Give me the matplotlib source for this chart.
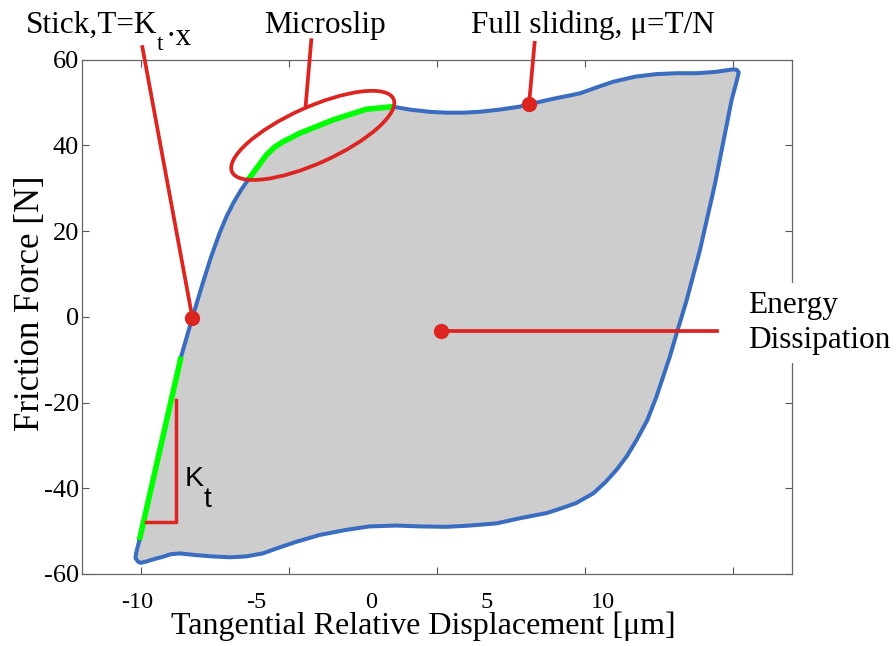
import matplotlib
matplotlib.use("Agg")
import matplotlib.pyplot as plt
from matplotlib.patches import Ellipse
from matplotlib.transforms import ScaledTranslation

plt.rcParams['font.family'] = 'Liberation Serif'
plt.rcParams['axes.unicode_minus'] = False

# hysteresis loop (x in um, y in N), going round from lower left
loop_x = [-10.06, -8.65, -8.27, -7.92, -7.64, -7.35, -7.12, -6.88, -6.63, -6.39,
          -6.22, -5.77, -5.50, -5.21, -4.64, -3.52, -2.39, -1.49, -0.90, -0.25, 0.32,
          0.90, 1.44, 2.10, 2.79, 3.11, 3.90, 4.83, 5.40, 5.95, 6.70,
          7.42, 8.10, 8.78, 9.40, 10.01, 10.13, 10.20, 10.15, 9.96, 9.40,
          8.89, 8.44, 8.10, 7.87, 7.42, 7.11, 6.75, 6.42, 6.07, 5.69,
          5.28, 4.69, 4.15, 3.70, 2.80, 2.01, 1.11, 0.32, -0.59, -1.37,
          -2.28, -3.06, -3.97, -4.76, -5.32, -5.89, -6.45, -7.01, -7.59, -8.14,
          -8.70, -9.01, -9.27, -9.55, -9.83, -10.02, -10.11, -10.19, -10.17, -10.06]
loop_y = [-52.1, -9.3, -0.2, 7.8, 13.9, 19.5, 23.3, 26.6, 29.5, 31.9,
          33.5, 37.7, 39.5, 40.8, 42.8, 45.9, 48.4, 49.0, 48.3, 47.8, 47.6,
          47.6, 47.8, 48.3, 49.0, 49.55, 50.8, 52.1, 53.5, 54.8, 56.0,
          56.6, 56.8, 56.8, 57.1, 57.7, 57.6, 57.0, 55.5, 50.6, 31.1,
          15.6, 3.9, -3.9, -9.3, -18.6, -24.1, -28.7, -32.5, -35.7, -38.6,
          -41.2, -43.5, -44.8, -45.8, -47.0, -48.2, -48.7, -49.0, -48.9, -48.7,
          -48.9, -49.7, -50.9, -52.5, -53.8, -55.2, -55.9, -56.1, -55.9, -55.6,
          -55.2, -55.4, -56.0, -56.5, -57.1, -57.4, -57.1, -56.3, -55.1, -52.1]

# green parts: linear stick and microslip
stick_x = [-10.06, -8.65]
stick_y = [-52.1, -9.3]
slip_x = [-6.39, -6.22, -5.77, -5.50, -5.21, -4.64, -3.52, -2.39, -1.49]
slip_y = [31.9, 33.5, 37.7, 39.5, 40.8, 42.8, 45.9, 48.4, 49.0]

# annotation points
stick_pt = (-8.27, -0.2)
full_pt = (3.11, 49.55)
energy_pt = (0.125, -3.3)
slip_center = (-4.20, 42.3)

xticks = [-10, -5, 0, 5, 10]
xtick_label_pos = [-10.13, -6.10, -2.24, 1.67, 5.61]
xtick_labels = ['-10', '-5', '0', '5', '10']
yticks = [-60, -40, -20, 0, 20, 40, 60]

RED = '#dc2420'
BLUE = '#3a6cc0'
GREEN = '#00ff00'

fig = plt.figure(figsize=(8.96, 6.46), dpi=100)
ax = fig.add_axes([82/896, 1-574/646, 710/896, 514.5/646])

ax.fill(loop_x, loop_y, color='#cdcdcd', zorder=1)
ax.plot(loop_x, loop_y, color=BLUE, lw=2.9, solid_joinstyle='round', zorder=2)
ax.plot(stick_x, stick_y, color=GREEN, lw=4, solid_capstyle='butt', zorder=3)
ax.plot(slip_x, slip_y, color=GREEN, lw=4, solid_capstyle='butt', zorder=3)

# K_t triangle
ax.plot([-9.83, -8.82, -8.82], [-47.8, -47.8, -19.4], color=RED, lw=2.5, zorder=3)
k = ax.text(-8.54, -39.5, 'K', family='Liberation Sans', fontsize=20.5, zorder=5)
ax.annotate('t', xy=(1, 0), xycoords=k, xytext=(0, -15), textcoords='offset pixels',
            family='Liberation Sans', fontsize=20.5, va='baseline', zorder=5)

# red pointers
ax.plot([-9.96, stick_pt[0]], [62.9, stick_pt[1]], color=RED, lw=2.7, clip_on=False, zorder=4)
ax.plot([-4.25, -4.44], [64.5, 49.2], color=RED, lw=2.7, clip_on=False, zorder=4)
ax.plot([3.30, full_pt[0]], [63.9, full_pt[1]], color=RED, lw=2.7, clip_on=False, zorder=4)
ax.plot([energy_pt[0], 9.45], [energy_pt[1], energy_pt[1]], color=RED, lw=2.7, zorder=4)
for p in (stick_pt, full_pt, energy_pt):
    ax.plot(p[0], p[1], 'o', color=RED, ms=10, zorder=5)

ell = Ellipse((0, 0), 1.772, 0.562, angle=24.3, fill=False, edgecolor=RED, lw=2.7,
              transform=fig.dpi_scale_trans + ScaledTranslation(*slip_center, ax.transData),
              zorder=4)
ax.add_patch(ell)

# labels on top
fs = 22.5
s = ax.text(-13.91, 66.2, 'Stick,T=K', fontsize=fs, clip_on=False)
s2 = ax.annotate('t', xy=(1, 0), xycoords=s, xytext=(0, -10), textcoords='offset pixels',
                 fontsize=16.5, va='baseline')
ax.annotate('·x', xy=(1, 0), xycoords=s2, xytext=(2, 10), textcoords='offset pixels',
            fontsize=fs, va='baseline')
ax.text(-5.83, 66.2, 'Microslip', fontsize=fs, clip_on=False)
ax.text(1.14, 66.2, 'Full sliding, μ=T/N', fontsize=fs, clip_on=False)
ax.text(10.51, -7.2, 'Energy\nDissipation', fontsize=fs, linespacing=1.25, clip_on=False,
        zorder=6, bbox=dict(facecolor='white', edgecolor='none', pad=6))

ax.set_xlim(-12, 12)
ax.set_ylim(-60, 60)
ax.set_xticks(xtick_label_pos, labels=xtick_labels)
ax.set_xticks(xticks, minor=True)
ax.set_yticks(yticks)
ax.tick_params(axis='x', which='major', length=0, pad=13, labelsize=17.5)
ax.tick_params(axis='x', which='minor', direction='in', length=5, width=0.8,
               top=True, bottom=True, color='#555555')
ax.tick_params(axis='y', direction='in', length=5, width=0.8, right=True,
               pad=2, labelsize=19, color='#555555')
for sp in ax.spines.values():
    sp.set_color('#666666')
    sp.set_linewidth(0.9)

ax.set_xlabel('Tangential Relative Displacement [μm]', fontsize=23)
ax.xaxis.set_label_coords(341/710, -60/514.5)
ax.xaxis.label.set_va('baseline')
ax.set_ylabel('Friction Force [N]', fontsize=25)
ax.yaxis.set_label_coords(-35/710, 0.526)

fig.savefig('out.png', dpi=100)
